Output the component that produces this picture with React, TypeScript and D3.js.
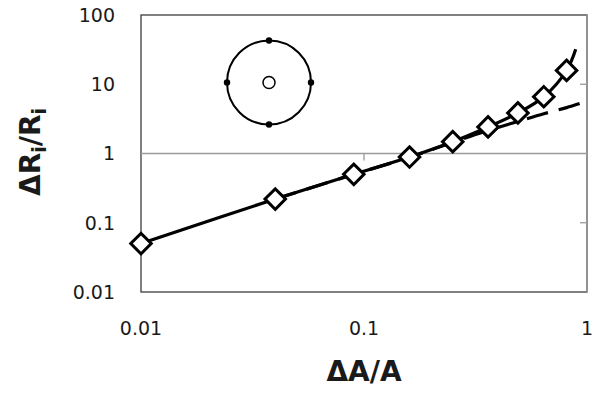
import * as d3 from 'd3'

const W = 602
const H = 393
const FONT = '"DejaVu Sans", "Open Sans", sans-serif'

// plot area edges
const LEFT = 141
const RIGHT = 587
const TOP = 15
const BOTTOM = 292

// measured points (diamonds) and the two curves
const MARK_X = [0.01, 0.04, 0.09, 0.16, 0.25, 0.36, 0.49, 0.64, 0.81]
const MARK_Y = [0.05, 0.22, 0.5, 0.89, 1.48, 2.42, 3.85, 6.6, 15.8]

const SOLID_X = [0.01, 0.04, 0.09, 0.16, 0.25, 0.36, 0.49, 0.64, 0.81, 0.89]
const SOLID_Y = [0.05, 0.22, 0.5, 0.89, 1.48, 2.42, 3.85, 6.6, 15.8, 32]

const DASH_X = [0.04, 0.09, 0.16, 0.25, 0.36, 0.49, 0.64, 0.81, 1.0]
const DASH_Y = [0.22, 0.5, 0.88, 1.45, 2.15, 2.9, 3.75, 4.6, 5.7]

const X_TICKS = [0.01, 0.1, 1]
const X_TICK_LABELS = ['0.01', '0.1', '1']
const Y_TICKS = [0.01, 0.1, 1, 10, 100]
const Y_TICK_LABELS = ['0.01', '0.1', '1', '10', '100']

// inset sketch: ring with four contacts, centre in data coords
const INSET_CENTER = { x: 0.0375, y: 10.6 }
const INSET_R = 42
const CONTACT_ANGLES = [0, 90, 180, 270]

export default function App() {
  const x = d3.scaleLog().domain([0.01, 1]).range([LEFT, RIGHT])
  const y = d3.scaleLog().domain([0.01, 100]).range([BOTTOM, TOP])

  const line = d3
    .line<[number, number]>()
    .x((d) => x(d[0]))
    .y((d) => y(d[1]))
    .curve(d3.curveCatmullRom.alpha(0.5))

  const solid = line(SOLID_X.map((v, i) => [v, SOLID_Y[i]]))
  const dashed = line(DASH_X.map((v, i) => [v, DASH_Y[i]]))
  const diamond = d3.symbol(d3.symbolSquare, 210)()

  const cx = x(INSET_CENTER.x)
  const cy = y(INSET_CENTER.y)

  return (
    <svg width={W} height={H} style={{ position: 'absolute', left: 0, top: 0, background: '#fff' }}>
      {/* plot frame */}
      <rect x={LEFT} y={TOP} width={RIGHT - LEFT} height={BOTTOM - TOP} fill="none" stroke="#3c3c3c" strokeWidth={1.3} />
      {/* axis lines crossing at y=1 and x=1 (grey) */}
      <line x1={LEFT} x2={RIGHT} y1={y(1)} y2={y(1)} stroke="#9a9a9a" strokeWidth={1.3} />
      <line x1={RIGHT} x2={RIGHT} y1={TOP} y2={BOTTOM} stroke="#9a9a9a" strokeWidth={1.5} />
      <line x1={x(0.1)} x2={x(0.1)} y1={y(1)} y2={y(1) + 7} stroke="#9a9a9a" strokeWidth={1.3} />
      {[10, 0.1].map((t) => (
        <line key={t} x1={RIGHT - 7} x2={RIGHT} y1={y(t)} y2={y(t)} stroke="#9a9a9a" strokeWidth={1.3} />
      ))}

      {/* tick labels */}
      {Y_TICKS.map((t, i) => (
        <text key={t} x={115} y={y(t)} dy="0.36em" textAnchor="end" fontFamily={FONT} fontSize={19} fill="#1a1a1a">
          {Y_TICK_LABELS[i]}
        </text>
      ))}
      {X_TICKS.map((t, i) => (
        <text key={t} x={x(t)} y={335} textAnchor="middle" fontFamily={FONT} fontSize={19} fill="#1a1a1a">
          {X_TICK_LABELS[i]}
        </text>
      ))}

      {/* curves */}
      <path d={dashed ?? ''} fill="none" stroke="#000" strokeWidth={3.2} strokeDasharray="22,11" />
      <path d={solid ?? ''} fill="none" stroke="#000" strokeWidth={3.2} />

      {/* diamonds */}
      {MARK_X.map((v, i) => (
        <path
          key={v}
          d={diamond ?? ''}
          transform={`translate(${x(v)},${y(MARK_Y[i])}) rotate(45)`}
          fill="#fff"
          stroke="#000"
          strokeWidth={3}
        />
      ))}

      {/* inset */}
      <circle cx={cx} cy={cy} r={INSET_R} fill="none" stroke="#000" strokeWidth={2} />
      <circle cx={cx} cy={cy} r={6} fill="#fff" stroke="#000" strokeWidth={1.5} />
      {CONTACT_ANGLES.map((a) => (
        <circle
          key={a}
          cx={cx + Math.cos((a * Math.PI) / 180) * INSET_R}
          cy={cy + Math.sin((a * Math.PI) / 180) * INSET_R}
          r={3.2}
          fill="#000"
        />
      ))}

      {/* axis titles */}
      <text x={364} y={381} textAnchor="middle" fontFamily={FONT} fontSize={28} fontWeight="bold" fill="#1a1a1a">
        ΔA/A
      </text>
      <text
        transform="translate(40,152) rotate(-90)"
        textAnchor="middle"
        fontFamily={FONT}
        fontSize={28}
        fontWeight="bold"
        fill="#1a1a1a"
      >
        ΔR
        <tspan fontSize={19} dy={6}>i</tspan>
        <tspan dy={-6}>/R</tspan>
        <tspan fontSize={19} dy={6}>i</tspan>
      </text>
    </svg>
  )
}
